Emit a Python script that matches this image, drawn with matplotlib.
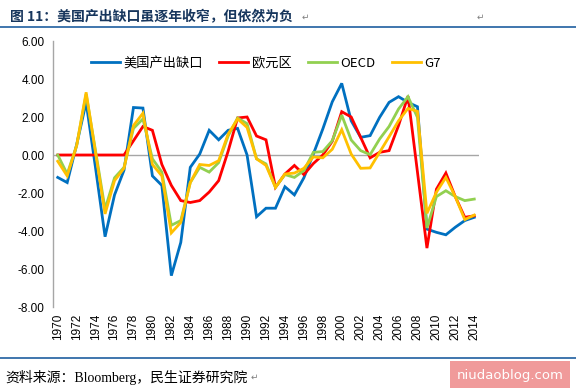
import matplotlib
matplotlib.use("Agg")
import matplotlib.pyplot as plt
from matplotlib.patches import Rectangle
from matplotlib.lines import Line2D

plt.rcParams['font.family'] = ['Noto Sans CJK SC', 'DejaVu Sans']

years = list(range(1970, 2015))

us_gap = [-1.18, -1.45, 0.55, 2.77, -0.7, -4.3, -2.1, -0.8, 2.5, 2.47,
          -1.1, -1.6, -6.35, -4.6, -0.65, 0.05, 1.3, 0.8, 1.3, 1.4,
          0.0, -3.25, -2.8, -2.8, -1.67, -2.1, -1.2, 0.05, 1.37, 2.8,
          3.77, 1.8, 0.93, 1.02, 1.98, 2.77, 3.07, 2.77, 2.54, -3.9,
          -4.07, -4.2, -3.8, -3.45, -3.28]
euro = [0.0, 0.0, 0.0, 0.0, 0.0, 0.0, 0.0, 0.0, 0.75, 1.5,
        1.3, -0.5, -1.6, -2.4, -2.5, -2.4, -1.95, -1.35, 0.2, 1.95,
        2.0, 1.0, 0.8, -1.7, -1.0, -0.55, -1.03, -0.45, 0.0, 0.72,
        2.28, 2.0, 0.93, -0.15, 0.14, 0.23, 1.55, 3.1, -0.9, -4.9,
        -1.8, -0.95, -2.2, -3.28, -3.2]
oecd = [0.0, -1.0, 0.5, 3.2, 0.2, -2.85, -1.2, -0.65, 1.4, 1.9,
        -0.2, -0.9, -3.7, -3.45, -1.45, -0.65, -0.9, -0.4, 1.0, 1.95,
        1.65, -0.2, -0.47, -1.7, -1.03, -1.18, -0.82, 0.14, 0.18, 0.75,
        2.1, 0.79, 0.23, 0.02, 0.84, 1.5, 2.42, 3.07, 1.98, -3.84,
        -2.19, -1.88, -2.19, -2.4, -2.32]
g7 = [-0.33, -1.1, 0.5, 3.3, 0.1, -3.1, -1.35, -0.7, 1.55, 2.2,
      -0.5, -1.1, -4.1, -3.55, -1.45, -0.5, -0.55, -0.3, 1.1, 1.9,
      1.45, -0.2, -0.55, -1.7, -1.0, -0.95, -0.7, -0.1, -0.15, 0.3,
      1.33, 0.05, -0.7, -0.68, 0.14, 0.96, 1.8, 2.45, 2.3, -3.07,
      -1.96, -1.18, -2.2, -3.4, -3.16]

series_names = ['美国产出缺口', '欧元区', 'OECD', 'G7']
series_values = [us_gap, euro, oecd, g7]
colors = ['#0070C0', '#FF0000', '#92D050', '#FFC000']

yticks = [6, 4, 2, 0, -2, -4, -6, -8]
xtick_years = list(range(1970, 2015, 2))

fig = plt.figure(figsize=(5.76, 3.90), dpi=100)
ax = fig.add_axes([53/576, 1-307/390, (479-53)/576, (307-41)/390])

handles = []
for i in range(4):
    ln, = ax.plot(years, series_values[i], color=colors[i], lw=2.0,
                  label=series_names[i], solid_joinstyle='miter', zorder=3+i)
    handles.append(ln)

ax.axhline(0, color='#A6A6A6', lw=1.0, zorder=2)
ax.set_xlim(1969.5, 2014.5)
ax.set_ylim(-8, 6)
ax.set_yticks(yticks)
ax.set_yticklabels([f"{v:.2f}" for v in yticks], fontsize=8.5,
                   family=['Liberation Sans', 'DejaVu Sans'])
ax.set_xticks(xtick_years)
ax.set_xticklabels([str(y) for y in xtick_years], rotation=90, fontsize=8.5,
                   family=['Liberation Sans', 'DejaVu Sans'])
ax.tick_params(axis='both', length=0, pad=6)
ax.tick_params(axis='x', pad=5)
for s in ['top', 'right', 'bottom']:
    ax.spines[s].set_visible(False)
ax.spines['left'].set_color('#A6A6A6')
ax.spines['left'].set_linewidth(1.0)

ax.legend(handles=handles, loc='upper center', ncol=4, frameon=False,
          bbox_to_anchor=(0.5, 0.985), fontsize=9.5, handlelength=2.2,
          columnspacing=1.2, handletextpad=0.3)

# title
title = fig.text(10/576, 1-17/390, '图 11：美国产出缺口虽逐年收窄，但依然为负', fontsize=10,
                 fontweight='bold', color='#17365D', va='center', ha='left',
                 family=['Noto Sans CJK SC', 'DejaVu Sans'])
fig.text(302/576, 1-17/390, '↵', fontsize=6.5, color='#7F7F7F', va='center')
fig.text(477/576, 1-17/390, '↵', fontsize=6.5, color='#7F7F7F', va='center')
fig.add_artist(Line2D([0, 1], [1-27/390, 1-27/390], color='#1F5FA0', lw=1.2,
                      transform=fig.transFigure))
fig.add_artist(Line2D([0, 1], [1-358/390, 1-358/390], color='#1F5FA0', lw=1.2,
                      transform=fig.transFigure))

fig.text(5/576, 1-377/390, '资料来源：Bloomberg，民生证券研究院', fontsize=10,
         color='black', va='center', ha='left',
         family=['Liberation Serif', 'Noto Sans CJK SC'])
fig.text(251/576, 1-377/390, '↵', fontsize=6.5, color='#7F7F7F', va='center')

fig.add_artist(Rectangle((450/576, 1-388/390), 120/576, 27/390, facecolor='#F09A9A',
                         edgecolor='none', transform=fig.transFigure))
fig.text(510/576, 1-375/390, 'niudaoblog.com', fontsize=9.5, color='white',
         ha='center', va='center', family=['DejaVu Sans'])

fig.savefig('out.png', dpi=100)
